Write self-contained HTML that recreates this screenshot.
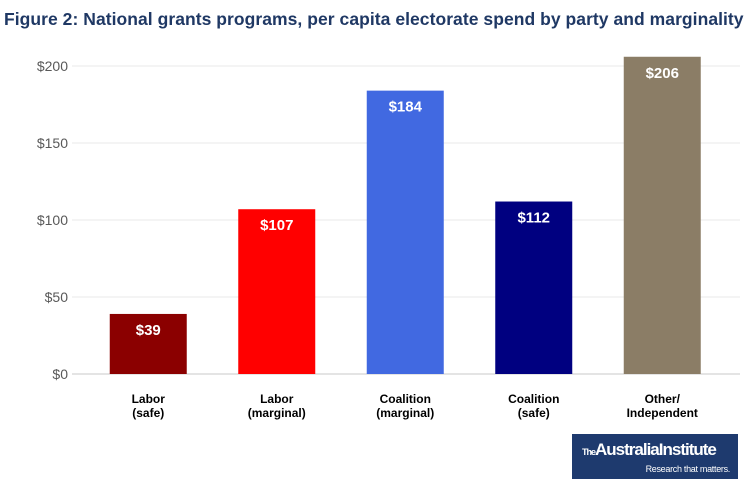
<!DOCTYPE html>
<html><head><meta charset="utf-8"><style>
body{margin:0;background:#fff;width:752px;height:492px;overflow:hidden;font-family:"Liberation Sans",sans-serif}
#title{position:absolute;left:4px;top:9px;font-size:17.5px;font-weight:bold;color:#1f3864;white-space:nowrap;letter-spacing:0.05px}
#logo{position:absolute;left:572px;top:434px;width:166px;height:45px;background:#1e3a6e;color:#fff;overflow:hidden}
</style></head><body>
<div id="title">Figure 2: National grants programs, per capita electorate spend by party and marginality</div>
<svg id="chart" width="752" height="492" style="position:absolute;left:0;top:0"></svg>
<div id="logo">
<div style="position:absolute;left:10px;top:6px;font-size:17px;font-weight:bold;letter-spacing:-1px;white-space:nowrap"><span style="font-size:9px">The</span>AustraliaInstitute</div>
<div style="position:absolute;right:8px;top:30px;font-size:9px;letter-spacing:-0.3px">Research that matters.</div>
</div>
<script>
const categories=[["Labor","(safe)"],["Labor","(marginal)"],["Coalition","(marginal)"],["Coalition","(safe)"],["Other/","Independent"]];
const values=[39,107,184,112,206];
const colors=["#8b0000","#ff0000","#4169e1","#000080","#8b7d66"];
const ticks=[0,50,100,150,200];
const tickLabels=["$0","$50","$100","$150","$200"];
const svg=document.getElementById('chart');
const NS="http://www.w3.org/2000/svg";
const y=v=>374-v*1.54;
const x0=84,band=128.5,bw=77;
const xc=i=>x0+band*(i+0.5);
function mk(t,a){const e=document.createElementNS(NS,t);for(const k in a)e.setAttribute(k,a[k]);svg.appendChild(e);return e;}
ticks.forEach((t,i)=>{
 const g=mk('line',{x1:72,x2:740,y1:y(t),y2:y(t),stroke:t===0?'#c8c8c8':'#e8e8e8','stroke-width':1});
 
 
 const l=mk('text',{x:68,y:y(t)+5,'text-anchor':'end','font-size':14,fill:'#595959'});
 l.textContent=tickLabels[i];
 
 
});
values.forEach((v,i)=>{
 const r=mk('rect',{x:xc(i)-bw/2,y:y(v),width:bw,height:y(0)-y(v),fill:colors[i]});
 
 
 const t=mk('text',{x:xc(i),y:y(v)+21,'text-anchor':'middle','font-size':15,'font-weight':'bold',fill:'#fff'});
 t.textContent='$'+v;
 
 
 categories[i].forEach((s,j)=>{
  const c=mk('text',{x:xc(i),y:403+j*14,'text-anchor':'middle','font-size':12,'font-weight':'bold',fill:'#000'});
  c.textContent=s;
  
  
 });
});
</script>
</body></html>
